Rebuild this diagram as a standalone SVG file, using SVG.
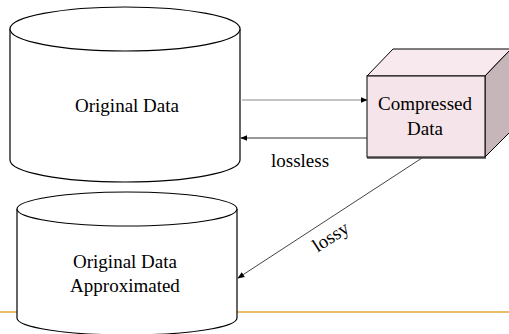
<svg xmlns="http://www.w3.org/2000/svg" width="509" height="334" viewBox="0 0 509 334">
<style>
.cyl{fill:#fff;stroke:#000;stroke-width:1.2}
.t{font-family:"Liberation Serif",serif;font-size:19px;fill:#000;text-anchor:middle}
.conn{fill:none;stroke-width:1}
</style>
<defs>
<marker id="ah" viewBox="0 0 10 10" refX="9" refY="5" markerWidth="7" markerHeight="7" orient="auto" markerUnits="userSpaceOnUse"><path d="M0,1 L10,5 L0,9 Z" fill="#000"/></marker>
</defs>
<rect width="509" height="334" fill="#fff"/>
<line x1="0" y1="312" x2="509" y2="312" stroke="#E0AA30" stroke-width="1.5"/>
<g id="original">
<path class="cyl" d="M10,29 L10,160 A115,22 0 0 0 240,160 L240,29"/>
<ellipse class="cyl" cx="125" cy="29" rx="115" ry="22"/>
<text class="t" x="127" y="112">Original Data</text>
</g>
<g id="approx">
<path class="cyl" d="M17,209 L17,318 A110,17 0 0 0 237,318 L237,209"/>
<ellipse class="cyl" cx="127" cy="209" rx="110" ry="17"/>
<text class="t" x="125" y="268">Original Data</text>
<text class="t" x="125" y="292">Approximated</text>
</g>
<g id="compressed">
<line x1="367" y1="158" x2="486" y2="158" stroke="#777" stroke-width="2"/>
<polygon points="367,76 393,49 511,49 485,76" fill="#F7E9EE" stroke="#000" stroke-width="1"/>
<polygon points="485,76 511,49 511,131 485,157" fill="#C6B6BA" stroke="#000" stroke-width="1"/>
<rect x="367" y="76" width="118" height="81" fill="#F5E4E9" stroke="#000" stroke-width="1"/>
<text class="t" x="425" y="110">Compressed</text>
<text class="t" x="425" y="135">Data</text>
</g>
<g id="connectors">
<line class="conn" x1="242" y1="100" x2="367" y2="100" stroke="#888" marker-end="url(#ah)"/>
<line class="conn" x1="367" y1="138" x2="241" y2="138" stroke="#333" marker-end="url(#ah)"/>
<line class="conn" x1="422" y1="158" x2="238" y2="278" stroke="#444" marker-end="url(#ah)"/>
<text class="t" x="300" y="167">lossless</text>
<text class="t" x="334" y="242" transform="rotate(-33 334 242)">lossy</text>
</g>
</svg>
